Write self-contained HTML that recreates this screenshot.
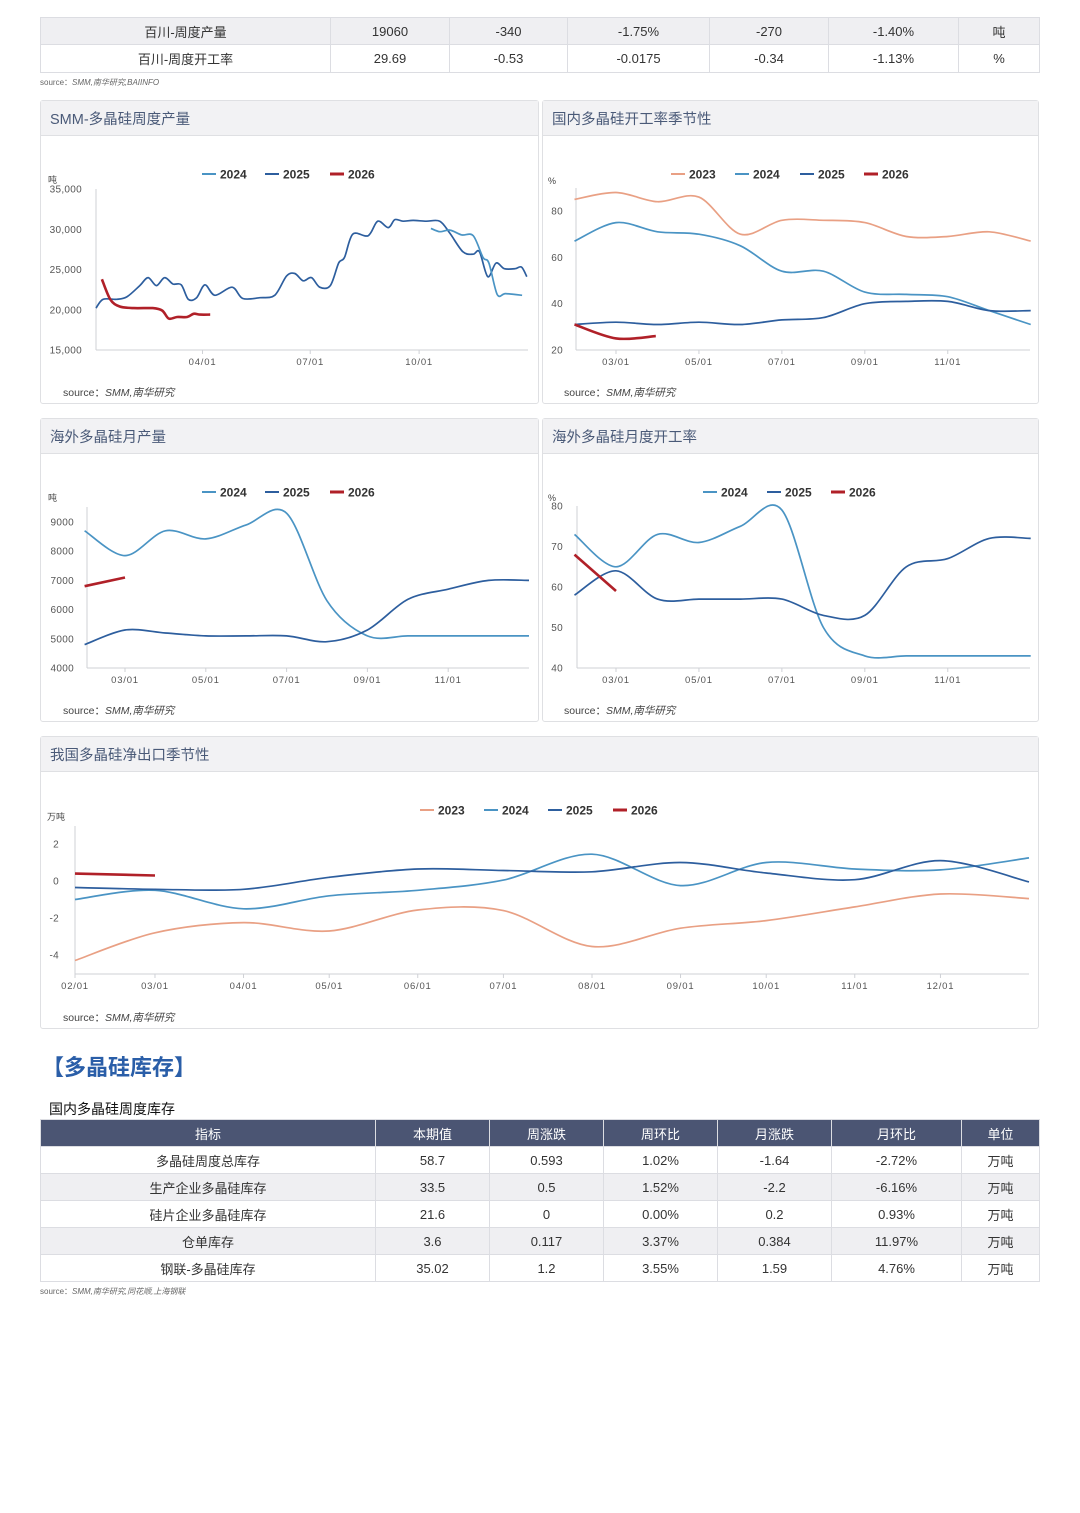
<!DOCTYPE html>
<html><head><meta charset="utf-8">
<style>
*{box-sizing:border-box;margin:0;padding:0}
body{width:1080px;height:1513px;background:#fff;position:relative;font-family:"Liberation Sans","Noto Sans CJK SC",sans-serif;color:#333;overflow:hidden}
table{border-collapse:collapse;position:absolute;table-layout:fixed;font-size:13px}
td,th{text-align:center;border:1px solid #dcdde2;font-weight:normal;padding:0;white-space:nowrap}
.src{position:absolute;font-size:8px;color:#666}
.src i{font-style:italic}
.src2{position:absolute;font-size:10.5px;color:#444}
.src2 i{font-style:italic}
.panel{position:absolute;border:1px solid #dfe0e3;border-radius:3px;background:#fff}
.ph{height:35px;background:#f2f2f4;border-bottom:1px solid #dfe0e3;font-size:14.5px;color:#4a5a78;padding:7px 0 0 9px}
svg.ch{position:absolute;left:0;top:0;pointer-events:none}
</style></head><body>

<table style="left:40px;top:17px;width:999px">
<colgroup><col style="width:290px"><col style="width:119px"><col style="width:118px"><col style="width:142px"><col style="width:119px"><col style="width:130px"><col style="width:81px"></colgroup>
<tr style="height:27px;background:#efeff2"><td>百川-周度产量</td><td>19060</td><td>-340</td><td>-1.75%</td><td>-270</td><td>-1.40%</td><td>吨</td></tr>
<tr style="height:28px"><td>百川-周度开工率</td><td>29.69</td><td>-0.53</td><td>-0.0175</td><td>-0.34</td><td>-1.13%</td><td>%</td></tr>
</table>
<div class="src" style="left:40px;top:77px">source：<i>SMM,南华研究,BAIINFO</i></div>

<div class="panel" style="left:40px;top:100px;width:499px;height:304px"><div class="ph">SMM-多晶硅周度产量</div></div>
<div class="panel" style="left:542px;top:100px;width:497px;height:304px"><div class="ph">国内多晶硅开工率季节性</div></div>
<div class="panel" style="left:40px;top:418px;width:499px;height:304px"><div class="ph">海外多晶硅月产量</div></div>
<div class="panel" style="left:542px;top:418px;width:497px;height:304px"><div class="ph">海外多晶硅月度开工率</div></div>
<div class="panel" style="left:40px;top:736px;width:999px;height:293px"><div class="ph">我国多晶硅净出口季节性</div></div>

<div class="src2" style="left:63px;top:385px">source：<i>SMM,南华研究</i></div>
<div class="src2" style="left:564px;top:385px">source：<i>SMM,南华研究</i></div>
<div class="src2" style="left:63px;top:703px">source：<i>SMM,南华研究</i></div>
<div class="src2" style="left:564px;top:703px">source：<i>SMM,南华研究</i></div>
<div class="src2" style="left:63px;top:1010px">source：<i>SMM,南华研究</i></div>

<div style="position:absolute;left:42px;top:1050px;font-size:22px;font-weight:bold;color:#2a5ea8">【多晶硅库存】</div>
<div style="position:absolute;left:49px;top:1099px;font-size:14px;color:#111">国内多晶硅周度库存</div>

<table style="left:40px;top:1119px;width:999px">
<colgroup><col style="width:335px"><col style="width:114px"><col style="width:114px"><col style="width:114px"><col style="width:114px"><col style="width:130px"><col style="width:78px"></colgroup>
<tr style="height:27px;background:#4b5573;color:#fff"><th>指标</th><th>本期值</th><th>周涨跌</th><th>周环比</th><th>月涨跌</th><th>月环比</th><th>单位</th></tr>
<tr style="height:27px"><td>多晶硅周度总库存</td><td>58.7</td><td>0.593</td><td>1.02%</td><td>-1.64</td><td>-2.72%</td><td>万吨</td></tr>
<tr style="height:27px;background:#efeff2"><td>生产企业多晶硅库存</td><td>33.5</td><td>0.5</td><td>1.52%</td><td>-2.2</td><td>-6.16%</td><td>万吨</td></tr>
<tr style="height:27px"><td>硅片企业多晶硅库存</td><td>21.6</td><td>0</td><td>0.00%</td><td>0.2</td><td>0.93%</td><td>万吨</td></tr>
<tr style="height:27px;background:#efeff2"><td>仓单库存</td><td>3.6</td><td>0.117</td><td>3.37%</td><td>0.384</td><td>11.97%</td><td>万吨</td></tr>
<tr style="height:27px"><td>钢联-多晶硅库存</td><td>35.02</td><td>1.2</td><td>3.55%</td><td>1.59</td><td>4.76%</td><td>万吨</td></tr>
</table>
<div class="src" style="left:40px;top:1286px">source：<i>SMM,南华研究,同花顺,上海钢联</i></div>

<svg class="ch" id="c1" width="1080" height="1513"></svg>
<svg class="ch" id="c2" width="1080" height="1513"></svg>
<svg class="ch" id="c3" width="1080" height="1513"></svg>
<svg class="ch" id="c4" width="1080" height="1513"></svg>
<svg class="ch" id="c5" width="1080" height="1513"></svg>

<script>
// ---- Chart 1: SMM weekly output (x = day of year) ----
const c1Days2025 = [0,6,17.5,26,37,44,51,58,65,72,78,85,92,100.5,115,124,138.5,151,161,168,175,182,189,198,205,210,217,230,238,247,252.5,259.5,268,279,290.5,299,310,318.7,324,331,338,345,354,359.5,364];
const c1Vals2025 = [20200,21300,21300,21600,23000,24000,23000,24000,23200,23100,21300,21500,23100,21800,22800,21400,21500,21800,24200,24500,23600,24000,22800,23000,25800,26500,29400,29200,31000,30200,31200,31000,31100,31000,31000,29500,27200,26900,27200,24100,25800,25100,25100,25300,24100];
const c1Days2024 = [283,290.5,299,309,318.7,327,332,339,346,360];
const c1Vals2024 = [30100,29700,29900,29300,29200,26500,25800,21900,22000,21800];
const c1Days2026 = [5,12,20,32,48,56,61.5,68.5,77,82.5,88,96.5];
const c1Vals2026 = [23800,21300,20400,20200,20200,19900,18900,19100,19100,19500,19400,19400];
const c1YTicks = [15000,20000,25000,30000,35000];
const c1YLabels = ["15,000","20,000","25,000","30,000","35,000"];
const c1XTicks = [90,181,273];
const c1XLabels = ["04/01","07/01","10/01"];

// ---- Chart 2: domestic utilization seasonality (x = month index, 2 = Mar 1) ----
const c2Months = [1,2,3,4,5,6,7,8,9,10,11,12];
const c2Vals2023 = [85,88,84,86,70,76,76,75,69,69,71,67];
const c2Vals2024 = [67,75,71,70,65,54,54,45,44,43,37,31];
const c2Vals2025 = [31,32,31,32,31,33,34,40,41,41,37,37];
const c2Months2026 = [1,2,2.96];
const c2Vals2026 = [31,25,26];
const c2YTicks = [20,40,60,80];
const c2XTicks = [2,4,6,8,10];
const c2XLabels = ["03/01","05/01","07/01","09/01","11/01"];

// ---- Chart 3: overseas monthly output ----
const c3Months = [1,2,3,4,5,6,7,8,9,10,11,12];
const c3Vals2024 = [8700,7850,8700,8420,8900,9300,6300,5100,5100,5100,5100,5100];
const c3Vals2025 = [4800,5300,5200,5100,5100,5100,4900,5300,6350,6700,7000,7000];
const c3Months2026 = [1,2];
const c3Vals2026 = [6800,7100];
const c3YTicks = [4000,5000,6000,7000,8000,9000];
const c3XTicks = [2,4,6,8,10];
const c3XLabels = ["03/01","05/01","07/01","09/01","11/01"];

// ---- Chart 4: overseas monthly utilization ----
const c4Months = [1,2,3,4,5,6,7,8,9,10,11,12];
const c4Vals2024 = [73,65,73,71,75,79,50,43,43,43,43,43];
const c4Vals2025 = [58,64,57,57,57,57,53,53,65,67,72,72];
const c4Months2026 = [1,2];
const c4Vals2026 = [68,59];
const c4YTicks = [40,50,60,70,80];
const c4XTicks = [2,4,6,8,10];
const c4XLabels = ["03/01","05/01","07/01","09/01","11/01"];

// ---- Chart 5: net export seasonality (x = day of year) ----
const c5Days = [31,59,90,120,151,181,212,243,273,304,334,365];
const c5Vals2023 = [-4.3,-2.8,-2.25,-2.7,-1.57,-1.6,-3.54,-2.55,-2.14,-1.4,-0.7,-0.95];
const c5Vals2024 = [-1.0,-0.5,-1.5,-0.8,-0.5,0.05,1.45,-0.25,1.0,0.65,0.6,1.25];
const c5Vals2025 = [-0.35,-0.45,-0.45,0.2,0.65,0.57,0.5,1.0,0.43,0.07,1.1,-0.05];
const c5Days2026 = [31,59];
const c5Vals2026 = [0.4,0.3];
const c5YTicks = [-4,-2,0,2];
const c5XTicks = [31,59,90,120,151,181,212,243,273,304,334];
const c5XLabels = ["02/01","03/01","04/01","05/01","06/01","07/01","08/01","09/01","10/01","11/01","12/01"];

const COL = {"2023":"#e9a084","2024":"#4a94c4","2025":"#2d5e9e","2026":"#b02028"};
const NS = "http://www.w3.org/2000/svg";

function mk(svg, tag, attrs, text){
  const e = document.createElementNS(NS, tag);
  for (const k in attrs) e.setAttribute(k, attrs[k]);
  if (text !== undefined) e.textContent = text;
  svg.appendChild(e);
  return e;
}
function lin(d0,d1,r0,r1){ return v => r0 + (v-d0)*(r1-r0)/(d1-d0); }
function smoothPath(pts){
  if (pts.length < 3) return "M" + pts.map(p=>p[0].toFixed(1)+","+p[1].toFixed(1)).join(" L");
  let d = "M" + pts[0][0].toFixed(1) + "," + pts[0][1].toFixed(1);
  for (let i=0;i<pts.length-1;i++){
    const p0 = pts[Math.max(0,i-1)], p1 = pts[i], p2 = pts[i+1], p3 = pts[Math.min(pts.length-1,i+2)];
    const t = 0.16;
    const c1x = p1[0] + (p2[0]-p0[0])*t, c1y = p1[1] + (p2[1]-p0[1])*t;
    const c2x = p2[0] - (p3[0]-p1[0])*t, c2y = p2[1] - (p3[1]-p1[1])*t;
    d += " C" + c1x.toFixed(1)+","+c1y.toFixed(1)+" "+c2x.toFixed(1)+","+c2y.toFixed(1)+" "+p2[0].toFixed(1)+","+p2[1].toFixed(1);
  }
  return d;
}
function drawSeries(svg, xs, ys, sx, sy, year){
  const pts = xs.map((x,i)=>[sx(x), sy(ys[i])]);
  const p = mk(svg, "path", {d: smoothPath(pts), fill:"none", stroke: COL[year], "stroke-width": year==="2026" ? 2.6 : 1.7, "stroke-linejoin":"round"});
  
  
}
function drawAxes(svg, o){
  const ya = mk(svg, "line", {x1:o.x0, y1:o.yTop, x2:o.x0, y2:o.yBot, stroke:"#cfd1d6", "stroke-width":1});
  
  
  const xa = mk(svg, "line", {x1:o.x0, y1:o.yBot, x2:o.x1, y2:o.yBot, stroke:"#cfd1d6", "stroke-width":1});
  
  
  o.yTicks.forEach((v,i)=>{
    const t = mk(svg, "text", {x:o.yLabX, y:o.sy(v)+3.5, "text-anchor":"end", "font-size":10, fill:"#555", "font-family":"Liberation Sans, sans-serif", "letter-spacing":"0.3"}, o.yLabels ? o.yLabels[i] : String(v));
    
    
  });
  o.xTicks.forEach((v,i)=>{
    const x = o.sx(v);
    const tk = mk(svg, "line", {x1:x, y1:o.yBot, x2:x, y2:o.yBot+4, stroke:"#cfd1d6"});
    
    
    const t = mk(svg, "text", {x:x, y:o.yBot+15, "text-anchor":"middle", "font-size":9.5, fill:"#555", "font-family":"Liberation Sans, sans-serif", "letter-spacing":"0.8"}, o.xLabels[i]);
    
    
  });
  const u = mk(svg, "text", {x:o.unitX, y:o.unitY, "font-size":9, fill:"#444", "font-family":"Liberation Sans, Noto Sans CJK SC, sans-serif"}, o.unit);
  
  
}
function drawLegend(svg, years, xs, y){
  years.forEach((yr,i)=>{
    const l = mk(svg, "line", {x1:xs[i], y1:y, x2:xs[i]+14, y2:y, stroke:COL[yr], "stroke-width": yr==="2026"?3:2});
    
    
    const t = mk(svg, "text", {x:xs[i]+18, y:y+4.5, "font-size":12, fill:"#333", "font-weight":"bold", "font-family":"Liberation Sans, sans-serif"}, yr);
    
    
  });
}

// Chart 1
(function(){
  const svg = document.getElementById("c1");
  const sx = lin(0,365,96,528), sy = lin(15000,35000,350,189);
  drawAxes(svg,{x0:96,x1:528,yTop:189,yBot:350,sx,sy,yTicks:c1YTicks,yLabels:c1YLabels,xTicks:c1XTicks,xLabels:c1XLabels,yLabX:82,unit:"吨",unitX:48,unitY:183});
  drawLegend(svg,["2024","2025","2026"],[202,265,330],174);
  drawSeries(svg,c1Days2025,c1Vals2025,sx,sy,"2025");
  drawSeries(svg,c1Days2024,c1Vals2024,sx,sy,"2024");
  drawSeries(svg,c1Days2026,c1Vals2026,sx,sy,"2026");
})();
// Chart 2
(function(){
  const svg = document.getElementById("c2");
  const sx = lin(2,12,616,1030.7), sy = lin(20,80,350,211);
  drawAxes(svg,{x0:576,x1:1030,yTop:188,yBot:350,sx,sy,yTicks:c2YTicks,xTicks:c2XTicks,xLabels:c2XLabels,yLabX:563,unit:"%",unitX:548,unitY:184});
  drawLegend(svg,["2023","2024","2025","2026"],[671,735,800,864],174);
  drawSeries(svg,c2Months,c2Vals2023,sx,sy,"2023");
  drawSeries(svg,c2Months,c2Vals2024,sx,sy,"2024");
  drawSeries(svg,c2Months,c2Vals2025,sx,sy,"2025");
  drawSeries(svg,c2Months2026,c2Vals2026,sx,sy,"2026");
})();
// Chart 3
(function(){
  const svg = document.getElementById("c3");
  const sx = lin(2,12,125,529), sy = lin(4000,9000,668,522);
  drawAxes(svg,{x0:87,x1:529,yTop:507,yBot:668,sx,sy,yTicks:c3YTicks,xTicks:c3XTicks,xLabels:c3XLabels,yLabX:74,unit:"吨",unitX:48,unitY:501});
  drawLegend(svg,["2024","2025","2026"],[202,265,330],492);
  drawSeries(svg,c3Months,c3Vals2024,sx,sy,"2024");
  drawSeries(svg,c3Months,c3Vals2025,sx,sy,"2025");
  drawSeries(svg,c3Months2026,c3Vals2026,sx,sy,"2026");
})();
// Chart 4
(function(){
  const svg = document.getElementById("c4");
  const sx = lin(2,12,616,1030.7), sy = lin(40,80,668,506);
  drawAxes(svg,{x0:577,x1:1030,yTop:506,yBot:668,sx,sy,yTicks:c4YTicks,xTicks:c4XTicks,xLabels:c4XLabels,yLabX:563,unit:"%",unitX:548,unitY:501});
  drawLegend(svg,["2024","2025","2026"],[703,767,831],492);
  drawSeries(svg,c4Months,c4Vals2024,sx,sy,"2024");
  drawSeries(svg,c4Months,c4Vals2025,sx,sy,"2025");
  drawSeries(svg,c4Months2026,c4Vals2026,sx,sy,"2026");
})();
// Chart 5
(function(){
  const svg = document.getElementById("c5");
  const sx = lin(31,365,75,1029), sy = lin(0,2,881,844);
  drawAxes(svg,{x0:75,x1:1029,yTop:826,yBot:974,sx,sy,yTicks:c5YTicks,xTicks:c5XTicks,xLabels:c5XLabels,yLabX:59,unit:"万吨",unitX:47,unitY:820});
  drawLegend(svg,["2023","2024","2025","2026"],[420,484,548,613],810);
  drawSeries(svg,c5Days,c5Vals2023,sx,sy,"2023");
  drawSeries(svg,c5Days,c5Vals2024,sx,sy,"2024");
  drawSeries(svg,c5Days,c5Vals2025,sx,sy,"2025");
  drawSeries(svg,c5Days2026,c5Vals2026,sx,sy,"2026");
})();
</script>
</body></html>
